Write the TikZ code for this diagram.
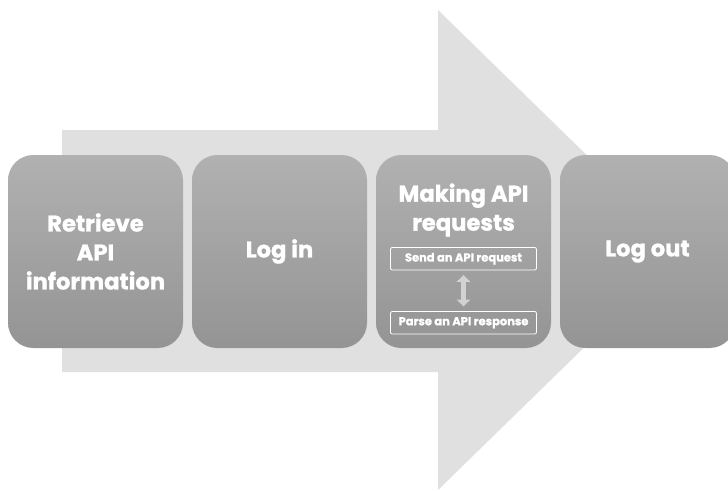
\documentclass[tikz,border=0pt]{standalone}
\usepackage{fontspec}
\setmainfont{Poppins}[BoldFeatures={FakeBold=1.2}]
\usetikzlibrary{positioning,arrows.meta}
\definecolor{stagetop}{HTML}{B1B1B1}
\definecolor{stagebottom}{HTML}{949494}
\definecolor{flowgray}{HTML}{E0E0E0}
\definecolor{linkgray}{HTML}{D2D2D2}
\tikzset{
    on grid,
    node distance=138pt,
    stage/.style = {
        shape=rectangle,
        rounded corners=19pt,
        minimum width=131.25pt,
        minimum height=144.75pt,
        top color=stagetop,
        bottom color=stagebottom,
        text=white,
        align=center,
        font=\bfseries\fontsize{17}{21.75}\selectfont
    },
    stagetitle/.style = {
        text=white,
        align=center,
        font=\bfseries\fontsize{17}{21.75}\selectfont
    },
    substage/.style = {
        draw=white,
        shape=rectangle,
        rounded corners=1.5pt,
        line width=0.6pt,
        minimum height=17pt,
        minimum width=109.5pt,
        text=white,
        font=\bfseries\fontsize{8.6}{10}\selectfont
    },
    flow/.style = {
        fill=flowgray
    },
    updown/.style = {
        draw=linkgray,
        line width=4pt,
        shorten <=3.5pt,
        shorten >=3.5pt,
        {Triangle[width=10pt,length=5pt]}-{Triangle[width=10pt,length=5pt]}
    },
}

\begin{document}
\begin{tikzpicture}[x=0.75pt,y=-0.75pt]
    \useasboundingbox (0,0) rectangle (728,490);
    % big background arrow
    \fill[flow] (62,130) -- (438,130) -- (438,10) -- (684,250) -- (438,490) -- (438,372) -- (62,372) -- cycle;

    \node[stage] (retrieve) at (95.5,251.5) {Retrieve\\API\\information};
    \node[stage, right=of retrieve] (login) {Log in};
    \node[stage, right=of login] (requests) {};
    \node[stage, right=of requests] (logout) {Log out};

    \node[stagetitle, below=41.5pt of requests.north, anchor=center] (reqtitle) {Making API\\requests};
    \node[substage, below=78pt of requests.north, anchor=center] (send) {Send an API request};
    \node[substage, below=48pt of send] (parse) {Parse an API response};
    \draw[updown] (send) -- (parse);
\end{tikzpicture}
\end{document}
